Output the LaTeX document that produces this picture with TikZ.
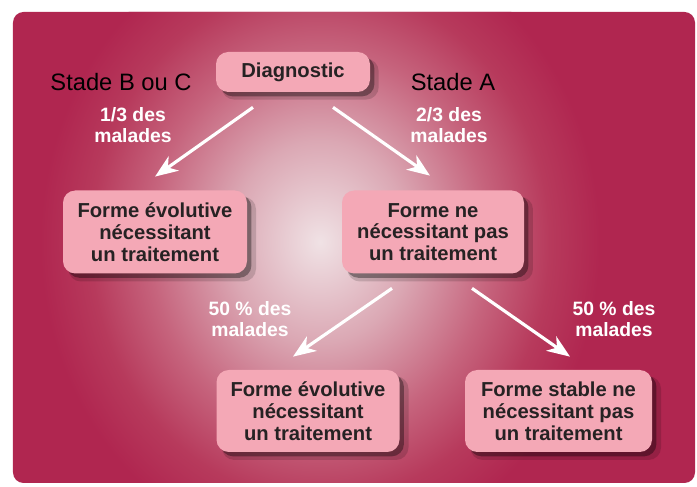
\documentclass[tikz,border=0pt]{standalone}
\usepackage{fontspec}
\setmainfont{Liberation Sans}
\usetikzlibrary{arrows.meta,shadows}

\definecolor{bgedge}{HTML}{B02650}
\definecolor{bgdeep}{HTML}{B73a5c}
\definecolor{bgmid}{HTML}{C6647D}
\definecolor{bglight}{HTML}{DBA8B4}
\definecolor{bgcenter}{HTML}{F0E2E5}
\definecolor{boxpink}{HTML}{F4A8B6}
\definecolor{boxtext}{HTML}{262223}

\pgfdeclareradialshading{glow}{\pgfpoint{0bp}{0bp}}{color(0bp)=(bgcenter); color(8bp)=(bglight); color(15.2bp)=(bgmid); color(20.5bp)=(bgdeep); color(25bp)=(bgedge); color(50bp)=(bgedge)}

\tikzset{
  forme/.style={fill=boxpink, rounded corners=7pt, align=center, text=boxtext,
    font=\bfseries\fontsize{11.5}{12.4}\selectfont, inner sep=2pt,
    drop shadow={shadow xshift=4pt, shadow yshift=-4pt, shadow scale=1.02, opacity=0.15, fill=black},
    drop shadow={shadow xshift=2.5pt, shadow yshift=-2.5pt, opacity=0.35, fill=black}},
  share/.style={align=center, text=white, font=\bfseries\fontsize{11}{11.6}\selectfont},
  stade/.style={text=black, font=\fontsize{13.5}{14}\selectfont},
}

\begin{document}
\begin{tikzpicture}[>={Stealth[length=13pt,width=10pt,inset=4pt]}]
                \useasboundingbox (0,0) rectangle (13.94,9.74);

                % background
                \fill[bgedge, rounded corners=6pt] (0.26,0.08) rectangle (13.90,9.50);
                \begin{scope}
                  \clip[rounded corners=6pt] (0.26,0.08) rectangle (13.90,9.50);
                  \shade[shading=glow] (6.4,4.9) ellipse (5.6 and 6.3);
                \end{scope}

                \node[forme, minimum width=3.08cm, minimum height=0.8cm] (diag) at(5.86,8.30) {Diagnostic};
                \node[forme, minimum width=3.68cm, minimum height=1.66cm] (evol1) at(3.10,5.10) {Forme évolutive\\nécessitant\\un traitement};
                \node[forme, minimum width=3.64cm, minimum height=1.66cm] (nopas) at(8.66,5.10) {Forme ne\\nécessitant pas\\un traitement};
                \node[forme, minimum width=3.66cm, minimum height=1.64cm] (evol2) at(6.16,1.52) {Forme évolutive\\nécessitant\\un traitement};
                \node[forme, minimum width=3.74cm, minimum height=1.64cm] (stable) at(11.17,1.52) {Forme stable ne\\nécessitant pas\\un traitement};

                \node[stade] (stadeBC) at(2.42,8.10) {Stade B ou C};
                \node[stade] (stadeA) at(9.06,8.10) {Stade A};

                \node[share] (tiers) at(2.66,7.24) {1/3 des\\malades};
                \node[share] (deuxtiers) at(8.98,7.24) {2/3 des\\malades};
                \node[share] (moitieG) at(5.00,3.36) {50~\% des\\malades};
                \node[share] (moitieD) at(12.28,3.36) {50~\% des\\malades};

                \draw[->, white, line width=1.8pt] ([shift={(-0.8,-0.3)}]diag.south) -- ([yshift=0.27cm]evol1.north);
                \draw[->, white, line width=1.8pt] ([shift={(0.8,-0.3)}]diag.south) -- ([shift={(-0.06,0.29)}]nopas.north);
                \draw[->, white, line width=1.8pt] ([shift={(-0.82,-0.29)}]nopas.south) -- ([shift={(-0.30,0.26)}]evol2.north);
                \draw[->, white, line width=1.8pt] ([shift={(0.78,-0.29)}]nopas.south) -- ([shift={(0.23,0.26)}]stable.north);
            \end{tikzpicture}
\end{document}
